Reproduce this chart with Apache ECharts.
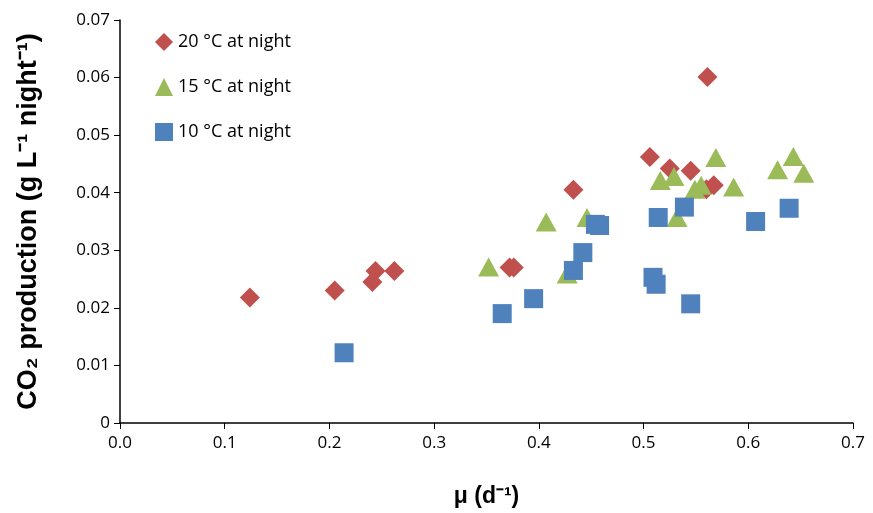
<!DOCTYPE html>
<html><head><meta charset="utf-8">
<script src="https://cdn.jsdelivr.net/npm/echarts@6/dist/echarts.min.js"></script>
<style>html,body{margin:0;padding:0;background:#fff}#c{width:873px;height:513px}</style>
</head><body><div id="c"></div>
<script>
const seriesNames = ['20 °C at night', '15 °C at night', '10 °C at night'];
const mu20 = [0.124, 0.205, 0.244, 0.241, 0.262, 0.372, 0.376, 0.433, 0.506, 0.525, 0.545, 0.560, 0.567, 0.561];
const co2_20 = [0.0218, 0.0230, 0.0264, 0.0245, 0.0264, 0.0270, 0.0270, 0.0405, 0.0462, 0.0442, 0.0438, 0.0406, 0.0413, 0.0601];
const mu15 = [0.352, 0.407, 0.446, 0.427, 0.516, 0.529, 0.532, 0.549, 0.555, 0.569, 0.586, 0.628, 0.643, 0.653];
const co2_15 = [0.0271, 0.0349, 0.0357, 0.0259, 0.0421, 0.0428, 0.0357, 0.0406, 0.0413, 0.0461, 0.0410, 0.0440, 0.0463, 0.0434];
const mu10 = [0.214, 0.365, 0.395, 0.433, 0.442, 0.454, 0.458, 0.514, 0.539, 0.509, 0.512, 0.545, 0.607, 0.639];
const co2_10 = [0.0122, 0.0190, 0.0216, 0.0265, 0.0296, 0.0345, 0.0343, 0.0357, 0.0375, 0.0253, 0.0241, 0.0207, 0.0350, 0.0373];
const xTicks = ['0.0','0.1','0.2','0.3','0.4','0.5','0.6','0.7'];
const yTicks = ['0','0.01','0.02','0.03','0.04','0.05','0.06','0.07'];

const zip = (a, b) => a.map((v, i) => [v, b[i]]);
const font = 'Open Sans, Liberation Sans, sans-serif';
const titleFont = 'Liberation Sans, Arial, sans-serif';
const chart = echarts.init(document.getElementById('c'), null, {renderer: 'canvas'});
chart.setOption({
  animation: false,
  backgroundColor: '#fff',
  grid: {left: 120, right: 20, top: 20, bottom: 89},
  legend: {
    orient: 'vertical', left: 150, top: 28, itemGap: 27, itemWidth: 18, itemHeight: 18,
    textStyle: {fontFamily: font, fontSize: 18, color: '#000'},
    data: [
      {name: seriesNames[0], icon: 'diamond'},
      {name: seriesNames[1], icon: 'triangle'},
      {name: seriesNames[2], icon: 'rect'}
    ]
  },
  xAxis: {
    type: 'value', min: 0, max: 0.7, interval: 0.1,
    name: 'μ (d⁻¹)', nameLocation: 'middle', nameGap: 62,
    nameTextStyle: {fontFamily: titleFont, fontSize: 23, fontWeight: 'bold', color: '#000'},
    axisLine: {show: true, lineStyle: {color: '#000', width: 1.5}},
    axisTick: {show: true, length: 6, lineStyle: {color: '#000'}},
    axisLabel: {fontFamily: font, fontSize: 17, color: '#000', margin: 12,
      formatter: v => xTicks[Math.round(v * 10)]},
    splitLine: {show: false}
  },
  yAxis: {
    type: 'value', min: 0, max: 0.07, interval: 0.01,
    name: 'CO₂ production (g L⁻¹ night⁻¹)', nameLocation: 'middle', nameGap: 78, nameRotate: 90,
    nameTextStyle: {fontFamily: titleFont, fontSize: 27, fontWeight: 'bold', color: '#000'},
    axisLine: {show: true, lineStyle: {color: '#000', width: 1.5}},
    axisTick: {show: true, length: 6, lineStyle: {color: '#000'}},
    axisLabel: {fontFamily: font, fontSize: 17, color: '#000', margin: 10,
      formatter: v => yTicks[Math.round(v * 100)]},
    splitLine: {show: false}
  },
  series: [
    {name: seriesNames[0], type: 'scatter', symbol: 'diamond', symbolSize: 20,
     itemStyle: {color: '#C0504D', opacity: 1}, data: zip(mu20, co2_20)},
    {name: seriesNames[1], type: 'scatter', symbol: 'triangle', symbolSize: [21, 19],
     itemStyle: {color: '#9BBB59', opacity: 1}, data: zip(mu15, co2_15)},
    {name: seriesNames[2], type: 'scatter', symbol: 'rect', symbolSize: 19,
     itemStyle: {color: '#4F81BD', opacity: 1}, data: zip(mu10, co2_10)}
  ]
});
</script></body></html>
